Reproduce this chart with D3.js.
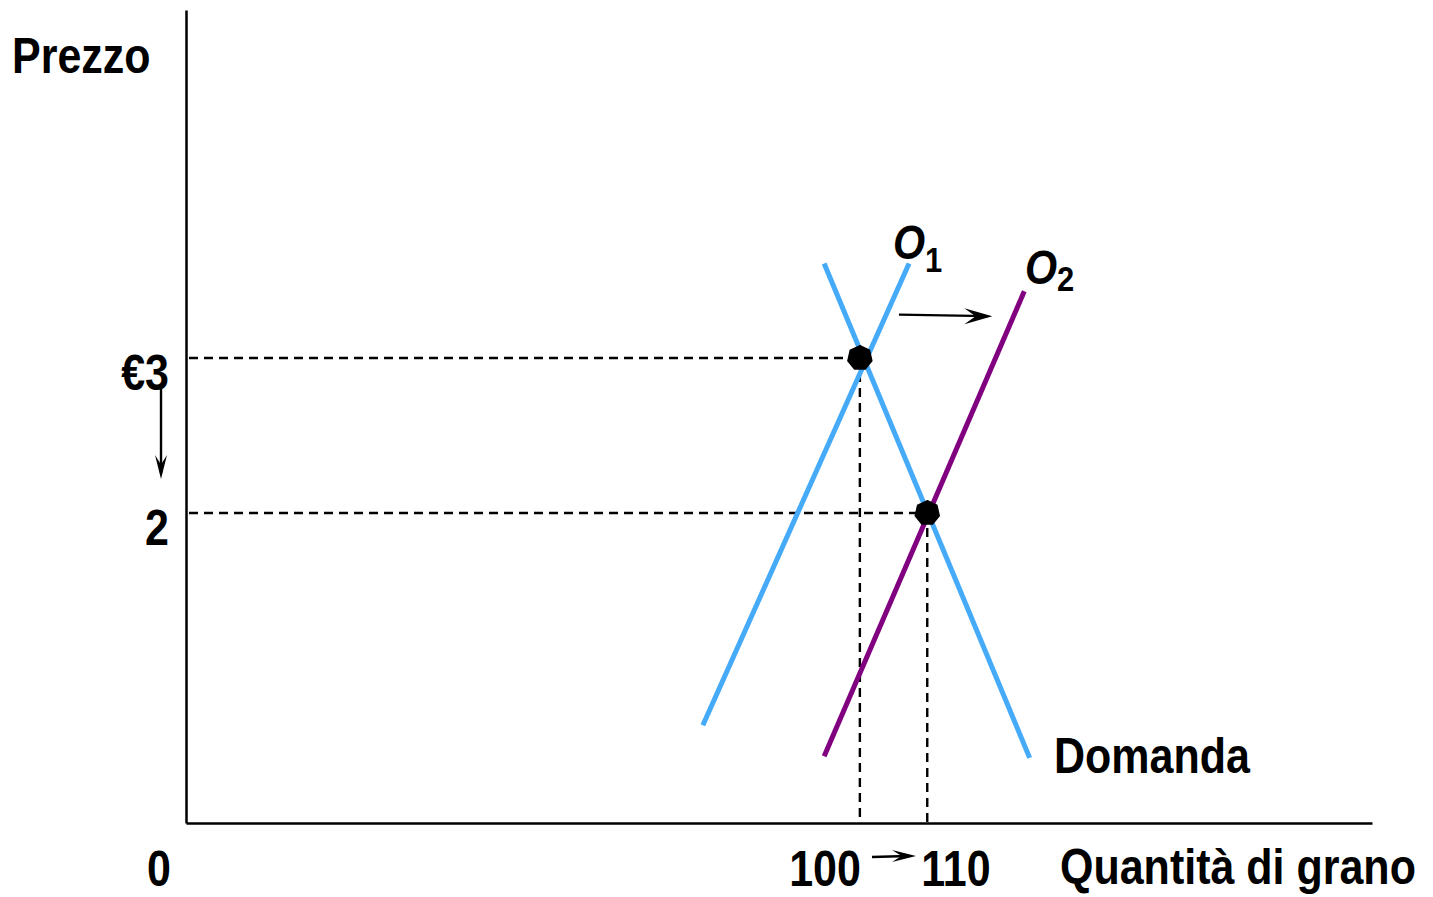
<!DOCTYPE html>
<html><head><meta charset="utf-8">
<script src="https://cdn.jsdelivr.net/npm/d3@7"></script>
<style>html,body{margin:0;padding:0;background:#fff;}svg{display:block;}</style>
</head><body>
<svg id="c" width="1433" height="897"></svg>
<script>
// ---- data ----
const offerta1 = [{q: 76.7, p: 0.63}, {q: 107.3, p: 3.61}];
const offerta2 = [{q: 94.7, p: 0.43}, {q: 124.4, p: 3.43}];
const domanda  = [{q: 94.7, p: 3.61}, {q: 125.2, p: 0.42}];
const equilibri = [{q: 100, p: 3}, {q: 110, p: 2}];
const priceTicks = [{p: 3, label: "€3"}, {p: 2, label: "2"}];
const qtyTicks = [{q: 100, label: "100"}, {q: 110, label: "110"}];
const shiftArrow = [{q: 105.8, p: 3.28}, {q: 120.4, p: 3.27}];

const W = 1433, H = 897;
const x = d3.scaleLinear().domain([0, 176]).range([186, 1372]);
const y = d3.scaleLinear().domain([0, 5.245]).range([823, 10]);
const svg = d3.select("#c");
const FONT = "'Liberation Sans', Arial, sans-serif";
const SX = 0.86;

function txt(t, px, py, size, anchor, opts = {}) {
  const g = svg.append("g").attr("transform", `translate(${px},${py}) scale(${SX},1)`);
  return g.append("text").attr("x", 0).attr("y", 0)
    .attr("font-family", FONT).attr("font-weight", "bold")
    .attr("font-style", opts.italic ? "italic" : "normal")
    .attr("font-size", size).attr("text-anchor", anchor || "start")
    .attr("fill", "#000").text(t);
}

function arrowHead(tx, ty, angle, len = 20, half = 8) {
  const p = `M0,0 L${-len},${-half} L${-len*0.6},0 L${-len},${half} Z`;
  svg.append("path").attr("d", p).attr("fill", "#000")
    .attr("transform", `translate(${tx},${ty}) rotate(${angle})`);
}

// axes
const yAxis = d3.axisLeft(y).tickValues([]).tickSize(0);
const xAxis = d3.axisBottom(x).tickValues([]).tickSize(0);
svg.append("g").attr("transform", `translate(${x(0)},0)`).call(yAxis)
  .select(".domain").attr("stroke", "#000").attr("stroke-width", 2.5);
svg.append("g").attr("transform", `translate(0,${y(0)})`).call(xAxis)
  .select(".domain").attr("stroke", "#000").attr("stroke-width", 2.5);

// dashed guides
equilibri.forEach(d => {
  svg.append("line").attr("x1", x(0) + 3).attr("x2", x(d.q)).attr("y1", y(d.p)).attr("y2", y(d.p))
    .attr("stroke", "#000").attr("stroke-width", 2.4).attr("stroke-dasharray", "9,6");
  svg.append("line").attr("x1", x(d.q)).attr("x2", x(d.q)).attr("y1", y(d.p)).attr("y2", y(0))
    .attr("stroke", "#000").attr("stroke-width", 2.4).attr("stroke-dasharray", "9,6");
});

// curves
const line = d3.line().x(d => x(d.q)).y(d => y(d.p));
svg.append("path").datum(offerta1).attr("d", line).attr("stroke", "#45aaf8").attr("stroke-width", 5).attr("fill", "none");
svg.append("path").datum(domanda).attr("d", line).attr("stroke", "#45aaf8").attr("stroke-width", 5).attr("fill", "none");
svg.append("path").datum(offerta2).attr("d", line).attr("stroke", "#800080").attr("stroke-width", 5).attr("fill", "none");

// equilibrium points (polygonal markers)
const poly = d3.range(7).map(i => {
  const a = -Math.PI / 2 + i * 2 * Math.PI / 7;
  return [12 * Math.cos(a), 12 * Math.sin(a)];
});
svg.selectAll("path.eq").data(equilibri).enter().append("path")
  .attr("d", "M" + poly.map(p => p.join(",")).join("L") + "Z")
  .attr("transform", d => `translate(${x(d.q)},${y(d.p)})`)
  .attr("fill", "#000").attr("stroke", "#000").attr("stroke-width", 2);

// labels
txt("Prezzo", 12, 73, 50, "start");
priceTicks.forEach(t => txt(t.label, 169, y(t.p) + 32, 50, "end"));
txt("0", 159, 886, 50, "middle");
txt(qtyTicks[0].label, x(qtyTicks[0].q) + 1, 886, 50, "end");
txt(qtyTicks[1].label, x(qtyTicks[1].q) - 6, 886, 50, "start");
txt("Quantità di grano", 1060, 884, 50, "start");
txt("Domanda", 1054, 773, 50, "start");
txt("O", 893, 259, 48, "start", {italic: true});
txt("1", 925, 272, 36, "start");
txt("O", 1025, 284, 48, "start", {italic: true});
txt("2", 1057, 291, 36, "start");

// arrows
// price fall arrow
svg.append("line").attr("x1", 161).attr("x2", 161).attr("y1", y(3) + 30).attr("y2", y(2) - 40)
  .attr("stroke", "#000").attr("stroke-width", 2.4);
arrowHead(161, y(2) - 34, 90, 24, 6);
// supply shift arrow
svg.append("line").attr("x1", x(shiftArrow[0].q)).attr("y1", y(shiftArrow[0].p))
  .attr("x2", x(shiftArrow[1].q) - 10).attr("y2", y(shiftArrow[1].p))
  .attr("stroke", "#000").attr("stroke-width", 2.4);
arrowHead(x(shiftArrow[1].q) - 5, y(shiftArrow[1].p), 0, 28, 8);
// quantity arrow
svg.append("line").attr("x1", 872).attr("x2", 908).attr("y1", 857).attr("y2", 856)
  .attr("stroke", "#000").attr("stroke-width", 2.4);
arrowHead(916, 856, 0, 24, 6);
</script>
</body></html>
